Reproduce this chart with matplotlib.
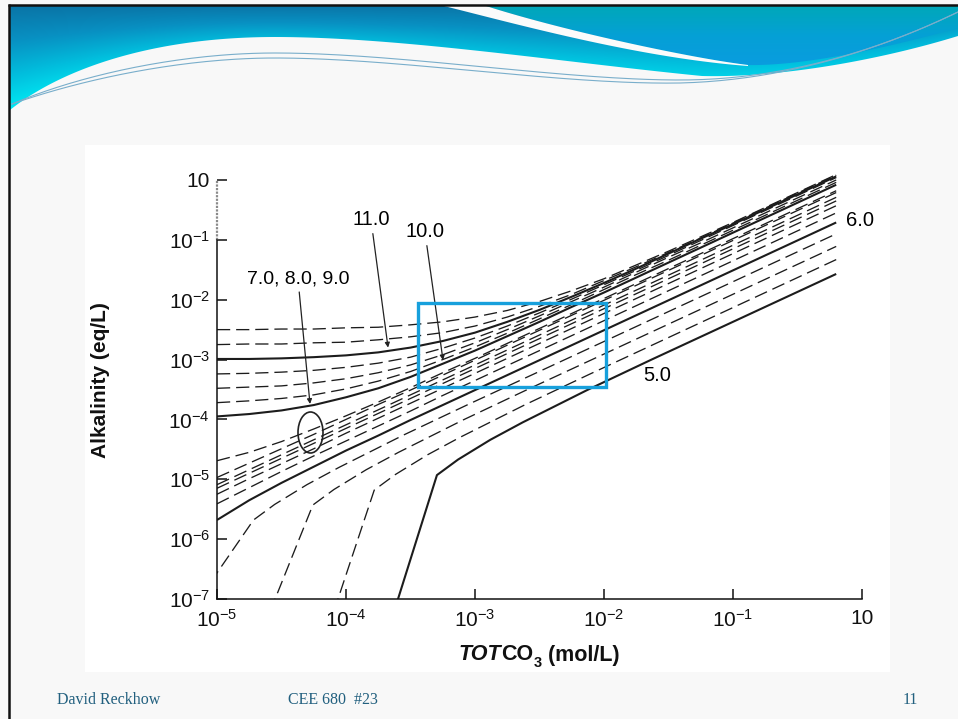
import numpy as np
import matplotlib
matplotlib.use("Agg")
import matplotlib.pyplot as plt
from matplotlib.colors import LinearSegmentedColormap
from matplotlib.patches import Rectangle, Ellipse, Polygon
from matplotlib.ticker import NullLocator

plt.rcParams['font.family'] = ['Liberation Sans', 'DejaVu Sans']
plt.rcParams['mathtext.fontset'] = 'custom'
plt.rcParams['mathtext.rm'] = 'Liberation Sans'
plt.rcParams['mathtext.it'] = 'Liberation Sans:italic'
plt.rcParams['mathtext.bf'] = 'Liberation Sans:bold'

# ---- data (log10 values) ----
# TOTCO3 grid shared by the pH 6.0 - 11.5 curves
log_ct = [-5.0, -4.75, -4.5, -4.25, -4.0, -3.75, -3.5, -3.25, -3.0, -2.75,
          -2.5, -2.25, -2.0, -1.75, -1.5, -1.25, -1.0, -0.5, -0.2]

ph_high = [6.0, 6.25, 6.5, 6.75, 7.0, 8.0, 9.0,
           10.0, 10.25, 10.5, 10.75, 11.0, 11.25, 11.5]

log_alk_high = [
    [-5.68, -5.35, -5.06, -4.79, -4.52, -4.27, -4.01, -3.76, -3.51, -3.26, -3.01, -2.76, -2.51, -2.26, -2.01, -1.76, -1.51, -1.01, -0.71],
    [-5.41, -5.14, -4.87, -4.61, -4.36, -4.11, -3.86, -3.60, -3.35, -3.10, -2.85, -2.60, -2.35, -2.10, -1.85, -1.60, -1.35, -0.85, -0.55],
    [-5.25, -4.99, -4.74, -4.49, -4.23, -3.98, -3.73, -3.48, -3.23, -2.98, -2.73, -2.48, -2.23, -1.98, -1.73, -1.48, -1.23, -0.73, -0.43],
    [-5.15, -4.90, -4.65, -4.40, -4.15, -3.90, -3.65, -3.40, -3.15, -2.90, -2.65, -2.40, -2.15, -1.90, -1.65, -1.40, -1.15, -0.65, -0.35],
    [-5.09, -4.84, -4.59, -4.34, -4.09, -3.84, -3.59, -3.34, -3.09, -2.84, -2.59, -2.34, -2.09, -1.84, -1.59, -1.34, -1.09, -0.59, -0.29],
    [-4.97, -4.73, -4.49, -4.25, -4.00, -3.75, -3.51, -3.26, -3.01, -2.76, -2.51, -2.26, -2.01, -1.76, -1.51, -1.26, -1.01, -0.51, -0.21],
    [-4.69, -4.55, -4.37, -4.16, -3.94, -3.71, -3.47, -3.22, -2.98, -2.73, -2.48, -2.23, -1.98, -1.73, -1.48, -1.23, -0.98, -0.48, -0.18],
    [-3.95, -3.91, -3.85, -3.76, -3.63, -3.48, -3.29, -3.07, -2.85, -2.61, -2.37, -2.12, -1.88, -1.63, -1.38, -1.13, -0.88, -0.38, -0.08],
    [-3.72, -3.69, -3.65, -3.59, -3.49, -3.36, -3.20, -3.00, -2.79, -2.56, -2.32, -2.08, -1.83, -1.58, -1.34, -1.09, -0.84, -0.34, -0.04],
    [-3.48, -3.46, -3.44, -3.39, -3.32, -3.22, -3.09, -2.92, -2.72, -2.50, -2.27, -2.03, -1.79, -1.54, -1.29, -1.05, -0.80, -0.30, 0.00],
    [-3.24, -3.23, -3.21, -3.18, -3.13, -3.06, -2.96, -2.81, -2.64, -2.44, -2.22, -1.99, -1.75, -1.51, -1.26, -1.01, -0.76, -0.26, 0.04],
    [-2.99, -2.99, -2.98, -2.96, -2.93, -2.88, -2.80, -2.69, -2.55, -2.37, -2.17, -1.95, -1.72, -1.48, -1.23, -0.98, -0.74, -0.24, 0.06],
    [-2.75, -2.74, -2.74, -2.72, -2.71, -2.67, -2.62, -2.55, -2.44, -2.29, -2.11, -1.91, -1.68, -1.45, -1.21, -0.97, -0.72, -0.22, 0.08],
    [-2.50, -2.50, -2.49, -2.49, -2.47, -2.46, -2.42, -2.37, -2.29, -2.18, -2.03, -1.85, -1.65, -1.42, -1.19, -0.95, -0.71, -0.21, 0.09],
]
# curves drawn solid in the figure
ph_solid = [5.0, 6.0, 10.0, 11.0]

# low pH curves rise steeply from the bottom, so each has its own points
ph_low = [5.0, 5.25, 5.5, 5.75]
log_ct_low = [
    [-3.626, -3.295, -3.131, -2.881, -2.631, -2.131, -1.631, -0.2],
    [-4.093, -3.781, -3.617, -3.367, -3.117, -2.617, -2.117, -0.2],
    [-4.587, -4.257, -4.093, -3.843, -3.593, -3.093, -2.593, -0.2],
    [-5.050, -4.717, -4.553, -4.303, -4.053, -3.553, -3.053, -0.2],
]
log_alk_low = [
    [-7.20, -4.93, -4.67, -4.34, -4.05, -3.51, -3.00, -1.57],
    [-7.20, -5.18, -4.92, -4.59, -4.30, -3.76, -3.25, -1.33],
    [-7.20, -5.43, -5.17, -4.84, -4.55, -4.01, -3.50, -1.11],
    [-6.72, -5.68, -5.42, -5.09, -4.80, -4.26, -3.75, -0.90],
]

x_ticks = [1e-5, 1e-4, 1e-3, 1e-2, 1e-1, 1.0]
x_tick_labels = [r'$\mathregular{10^{-5}}$', r'$\mathregular{10^{-4}}$', r'$\mathregular{10^{-3}}$',
                 r'$\mathregular{10^{-2}}$', r'$\mathregular{10^{-1}}$', '10']
y_ticks = [1.0, 1e-1, 1e-2, 1e-3, 1e-4, 1e-5, 1e-6, 1e-7]
y_tick_labels = ['10', r'$\mathregular{10^{-1}}$', r'$\mathregular{10^{-2}}$', r'$\mathregular{10^{-3}}$',
                 r'$\mathregular{10^{-4}}$', r'$\mathregular{10^{-5}}$', r'$\mathregular{10^{-6}}$',
                 r'$\mathregular{10^{-7}}$']

W, H = 958, 719
fig = plt.figure(figsize=(W / 100, H / 100), dpi=100)
fig.patch.set_facecolor('#f8f8f8')


def bez(p0, p1, p2, p3, n=80):
    t = np.linspace(0, 1, n)[:, None]
    p0, p1, p2, p3 = (np.array(p, float) for p in (p0, p1, p2, p3))
    return (1 - t) ** 3 * p0 + 3 * (1 - t) ** 2 * t * p1 + 3 * (1 - t) * t ** 2 * p2 + t ** 3 * p3


# ---- slide background (pixel coordinates) ----
bg = fig.add_axes([0, 0, 1, 1], zorder=0)
bg.axis('off')
bg.add_patch(Rectangle((85, 145), 805, 527, facecolor='white', edgecolor='none'))

# header: blue wave with a gradient that turns cyan towards its lower edge
edge = np.vstack([bez((958, 36), (880, 60), (780, 78), (702, 76)),
                  bez((702, 76), (560, 62), (400, 37), (275, 37)),
                  bez((275, 37), (150, 37), (60, 70), (10, 110))])
hdr = Polygon(np.vstack([[(10, 5), (958, 5)], edge]), closed=True, facecolor='none', edgecolor='none')
bg.add_patch(hdr)
order = np.argsort(edge[:, 0])
gx, gy = np.meshgrid(np.arange(W) + 0.5, np.arange(115) + 0.5)
yb = np.interp(gx, edge[order, 0], edge[order, 1])
tt = np.clip(0.55 * (gy - 5) / 105 + 0.45 * (gy - 5) / (yb - 5), 0, 1)
hdr_cmap = LinearSegmentedColormap.from_list('hdr', ['#0a74a6', '#0890c2', '#02bcdc', '#00e8f3'])
im = bg.imshow(hdr_cmap(tt), extent=[0, W, 115, 0], aspect='auto', zorder=1, interpolation='bilinear')
im.set_clip_path(hdr)

tr_pts = np.vstack([[(483, 5), (958, 5), (958, 28)],
                    bez((958, 28), (880, 50), (800, 66), (748, 65)),
                    bez((748, 65), (690, 58), (560, 30), (483, 5))])
tr = Polygon(tr_pts, closed=True, facecolor='none', edgecolor='none')
bg.add_patch(tr)
tr_cmap = LinearSegmentedColormap.from_list('tr', ['#00a8b8', '#05a0d6', '#0a9ce0'])
im2 = bg.imshow(np.linspace(0, 1, 200)[:, None], cmap=tr_cmap, extent=[440, W, 68, 5],
                aspect='auto', zorder=3)
im2.set_clip_path(tr)

sw_pts = np.vstack([bez((440, 5), (520, 25), (640, 58), (748, 66)),
                    bez((748, 65), (690, 58), (560, 30), (483, 5))])
bg.add_patch(Polygon(sw_pts, closed=True, facecolor='#fbfbfb', edgecolor='none', zorder=4))

for dy in (0, 5):
    wave = np.vstack([bez((12, 104), (80, 75 + dy), (180, 53 + dy), (275, 53 + dy)),
                      bez((275, 53 + dy), (400, 53 + dy), (560, 80 + dy), (680, 80 + dy * 0.6)),
                      bez((680, 80 + dy * 0.6), (800, 80), (900, 40), (958, 12))])
    bg.plot(wave[:, 0], wave[:, 1], color='#79aecb', lw=0.8, zorder=5)

bg.plot([9.5, 9.5], [4, H], color='#111111', lw=1.8, zorder=6, solid_capstyle='butt')
bg.plot([8, W], [5, 5], color='#111111', lw=1.8, zorder=6, solid_capstyle='butt')

foot_color = '#22607f'
bg.text(57, 700, 'David Reckhow', fontsize=11.5, family='Liberation Serif', color=foot_color, va='center')
bg.text(288, 700, 'CEE 680  #23', fontsize=11.5, family='Liberation Serif', color=foot_color, va='center')
bg.text(918, 700, '11', fontsize=11.5, family='Liberation Serif', color=foot_color, va='center', ha='right')
bg.set_xlim(0, W)
bg.set_ylim(H, 0)

# ---- the chart ----
ax = fig.add_axes([217 / W, 120 / H, 645 / W, 428 / H], zorder=2)
ax.set_facecolor('none')
ax.set_xscale('log')
ax.set_yscale('log')

line_color = '#1c1c1c'


def curve_style(ph):
    if ph in ph_solid:
        return dict(color=line_color, lw=1.5, solid_capstyle='butt')
    return dict(color=line_color, lw=0.95, dashes=(10, 4.5))


for ph, xs, ys in zip(ph_low, log_ct_low, log_alk_low):
    ax.plot(np.power(10.0, xs), np.power(10.0, ys), **curve_style(ph))
for ph, ys in zip(ph_high, log_alk_high):
    ax.plot(np.power(10.0, log_ct), np.power(10.0, ys), **curve_style(ph))

ax.set_xlim(1e-5, 1.0)
ax.set_ylim(1e-7, 10 ** 0.15)
for s in ('top', 'right'):
    ax.spines[s].set_visible(False)
ax.spines['left'].set_bounds(1e-7, 1e-1)
ax.spines['bottom'].set_bounds(1e-5, 1.0)
for s in ('left', 'bottom'):
    ax.spines[s].set_linewidth(1.1)
    ax.spines[s].set_color('#111111')
ax.plot([1e-5, 1e-5], [1e-1, 1.0], color='#8a8a8a', lw=1.6, ls=(0, (1, 0.6)), clip_on=False)

ax.set_xticks(x_ticks)
ax.set_xticklabels(x_tick_labels)
ax.set_yticks(y_ticks)
ax.set_yticklabels(y_tick_labels)
ax.xaxis.set_minor_locator(NullLocator())
ax.yaxis.set_minor_locator(NullLocator())
ax.tick_params(direction='in', length=7, width=1.1, labelsize=15, colors='#111111')
ax.tick_params(axis='x', pad=7)
ax.tick_params(axis='y', pad=5)

arrow = dict(arrowstyle='-|>', color='#222222', lw=0.9, mutation_scale=7, shrinkA=1, shrinkB=0)
ax.annotate('11.0', xy=(10 ** -3.674, 10 ** -2.80), xytext=(10 ** -3.806, 10 ** -0.668),
            ha='center', va='center', fontsize=14.5, arrowprops=arrow)
ax.annotate('10.0', xy=(10 ** -3.248, 10 ** -3.01), xytext=(10 ** -3.388, 10 ** -0.869),
            ha='center', va='center', fontsize=14.5, arrowprops=arrow)
ax.annotate('7.0, 8.0, 9.0', xy=(10 ** -4.279, 10 ** -3.742), xytext=(10 ** -4.372, 10 ** -1.66),
            ha='center', va='center', fontsize=14, arrowprops=arrow)
ax.text(10 ** -1.589, 10 ** -3.258, '5.0', ha='center', va='center', fontsize=14.5)
ax.text(10 ** -0.0155, 10 ** -0.685, '6.0', ha='center', va='center', fontsize=14.5, clip_on=False)

fig.text(101 / W, 1 - 380 / H, 'Alkalinity (eq/L)', rotation=90, ha='center', va='center',
         fontsize=15, fontweight='bold', color='#111111')
t1 = fig.text(458 / W, 1 - 655 / H, 'TOT', fontsize=15.5, fontweight='bold', fontstyle='italic',
              ha='left', va='center', color='#111111')
t2 = ax.annotate('CO', xy=(1, 0), xycoords=t1, xytext=(0.3, 0), textcoords='offset points',
                 ha='left', va='bottom', fontsize=15.5, fontweight='bold', color='#111111')
t3 = ax.annotate('3', xy=(1, 0), xycoords=t2, xytext=(0.3, -3), textcoords='offset points',
                 ha='left', va='bottom', fontsize=10.5, fontweight='bold', color='#111111')
ax.annotate(' (mol/L)', xy=(1, 0), xycoords=(t3, t2), ha='left', va='bottom', fontsize=15.5,
            fontweight='bold', color='#111111')

# ---- highlight box and ellipse (pixel coordinates) ----
ov = fig.add_axes([0, 0, 1, 1], zorder=3)
ov.axis('off')
ov.add_patch(Rectangle((418, 303), 188, 84, facecolor='none', edgecolor='#17a0dc', lw=2.4))
ov.add_patch(Ellipse((310.5, 432.5), 25, 41, facecolor='none', edgecolor='#222222', lw=1.2))
ov.set_xlim(0, W)
ov.set_ylim(H, 0)

fig.savefig('out.png', dpi=100, facecolor=fig.get_facecolor())
